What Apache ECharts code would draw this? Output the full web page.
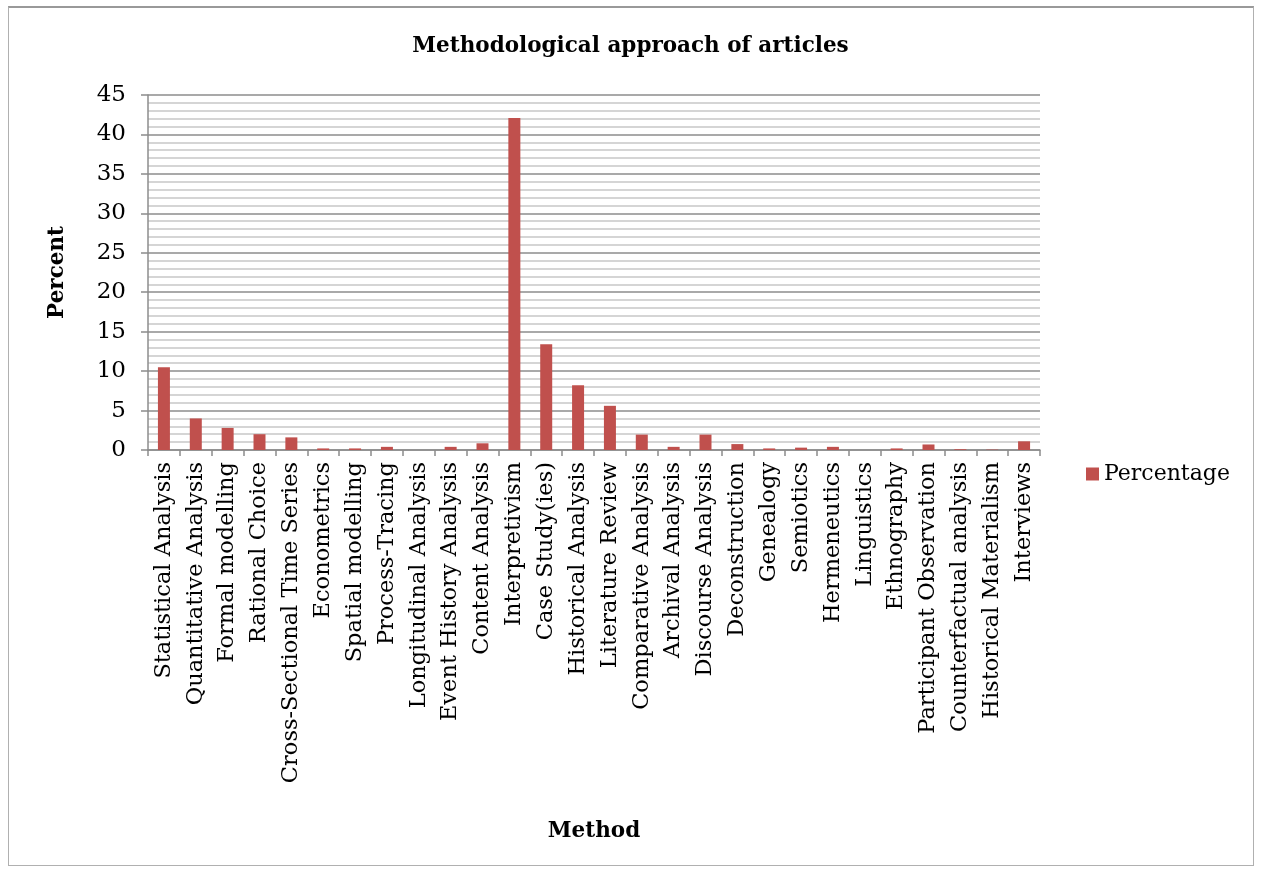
<!DOCTYPE html>
<html><head><meta charset="utf-8">
<script src="https://cdn.jsdelivr.net/npm/echarts@6/dist/echarts.min.js"></script>
<style>
html,body{margin:0;padding:0;background:#fff;}
#frame{position:absolute;left:8px;top:6px;width:1246px;height:860px;border:1px solid #b0b0b0;border-top:2px solid #999;box-sizing:border-box;}
#chart{position:absolute;left:0;top:0;width:1261px;height:870px;}
</style></head>
<body>
<div id="frame"></div>
<div id="chart"></div>
<script>
const categories = ["Statistical Analysis","Quantitative Analysis","Formal modelling","Rational Choice","Cross-Sectional Time Series","Econometrics","Spatial modelling","Process-Tracing","Longitudinal Analysis","Event History Analysis","Content Analysis","Interpretivism","Case Study(ies)","Historical Analysis","Literature Review","Comparative Analysis","Archival Analysis","Discourse Analysis","Deconstruction","Genealogy","Semiotics","Hermeneutics","Linguistics","Ethnography","Participant Observation","Counterfactual analysis","Historical Materialism","Interviews"];
const percentage = [10.5,4.0,2.8,2.0,1.6,0.2,0.2,0.4,0,0.4,0.85,42.1,13.4,8.2,5.6,1.95,0.4,1.95,0.75,0.2,0.3,0.4,0,0.2,0.7,0.1,0.05,1.1];
const yTicks = [0,5,10,15,20,25,30,35,40,45];

const FONT = "DejaVu Serif";
const chart = echarts.init(document.getElementById('chart'));
chart.setOption({
  animation:false,
  title:{text:"Methodological approach of articles",left:'center',top:30,
    textStyle:{fontFamily:FONT,fontWeight:'bold',fontSize:21.5,color:'#000'}},
  legend:{data:["Percentage"],left:1081,top:458,icon:'rect',itemWidth:13,itemHeight:13,itemGap:6,
    textStyle:{fontFamily:FONT,fontSize:22,color:'#000'}},
  grid:{left:148,right:221,top:95,bottom:420,containLabel:false},
  xAxis:{type:'category',data:categories,name:'Method',nameLocation:'middle',nameGap:370,
    nameTextStyle:{fontFamily:FONT,fontWeight:'bold',fontSize:21.5,color:'#000'},
    axisLine:{lineStyle:{color:'#8c8c8c',width:1.5}},
    axisTick:{show:true,length:6,lineStyle:{color:'#8c8c8c',width:1.5}},
    axisLabel:{rotate:90,interval:0,fontFamily:FONT,fontSize:22.5,color:'#000',margin:12}},
  yAxis:{type:'value',min:0,max:45,interval:5,name:'Percent',nameLocation:'middle',nameGap:80,
    nameTextStyle:{fontFamily:FONT,fontWeight:'bold',fontSize:21.5,color:'#000'},
    axisLine:{show:true,lineStyle:{color:'#8c8c8c',width:1.5}},
    axisTick:{show:true,length:7,lineStyle:{color:'#8c8c8c',width:1.5}},
    axisLabel:{fontFamily:FONT,fontSize:23,color:'#000',margin:22,
      formatter:function(v){return yTicks.indexOf(v)>=0?String(v):'';}},
    splitLine:{lineStyle:{color:'#8c8c8c',width:1.5}},
    minorTick:{show:false,splitNumber:5},
    minorSplitLine:{show:true,lineStyle:{color:'#c8c8c8',width:1.5}}},
  series:[{name:'Percentage',type:'bar',data:percentage,barWidth:12,
    itemStyle:{color:'#c0504d'}}]
});
</script>
</body></html>
